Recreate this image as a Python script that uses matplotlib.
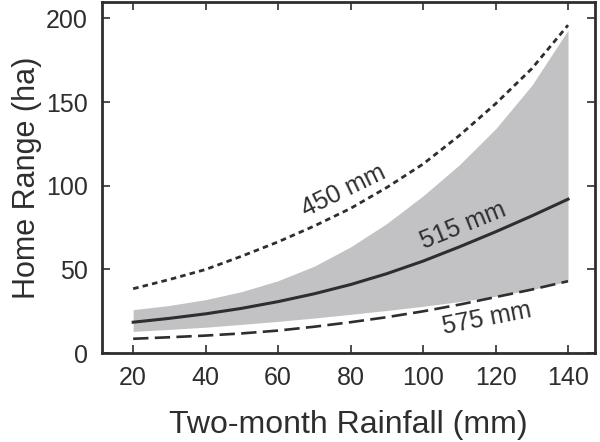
import numpy as np
import matplotlib
matplotlib.use("Agg")
import matplotlib.pyplot as plt

plt.rcParams['font.family'] = ['Liberation Sans', 'DejaVu Sans']

# two-month rainfall (mm)
rain = [20, 30, 40, 50, 60, 70, 80, 90, 100, 110, 120, 130, 140]
# home range (ha) for three annual rainfall levels
hr_450 = [38.5, 44, 50, 58, 66.5, 76, 86.5, 99, 113, 130, 149, 170, 196]
hr_515 = [18.5, 20.8, 23.5, 26.8, 30.8, 35.5, 41, 47.5, 55, 63.5, 72.5, 82, 92]
hr_575 = [8.6, 9.5, 10.5, 11.8, 13.5, 15.8, 18.5, 21.5, 25, 29, 33.5, 38, 43]
# confidence band around the 515 mm curve
band_hi = [26, 28.5, 32, 36.8, 43.3, 52, 63.5, 77.5, 94, 112.5, 134, 160, 193]
band_lo = [13, 14.2, 15.5, 17.2, 19, 21, 23.2, 25.5, 28, 30.8, 34, 38, 43]

labels = ['450 mm', '515 mm', '575 mm']

ink = '#2e2e2e'
fig = plt.figure(figsize=(6, 4.42), dpi=100)
ax = fig.add_axes([0.170, 0.201, 0.822, 0.794])

ax.fill_between(rain, band_lo, band_hi, color='#c2c2c4', lw=0)
ax.plot(rain, hr_450, color=ink, lw=2.0, dashes=(2.0, 1.5))
ax.plot(rain, hr_515, color=ink, lw=2.2)
ax.plot(rain, hr_575, color=ink, lw=1.9, dashes=(5.8, 2.4))

ax.text(78, 97, labels[0], rotation=26, ha='center', va='center', fontsize=18, color=ink)
ax.text(111, 76.5, labels[1], rotation=22, ha='center', va='center', fontsize=18, color=ink)
ax.text(117.5, 20.5, labels[2], rotation=11, ha='center', va='center', fontsize=18, color=ink)

ax.set_xlim(11.4, 147.5)
ax.set_ylim(0, 209.7)
ax.set_xticks([20, 40, 60, 80, 100, 120, 140])
ax.set_yticks([0, 50, 100, 150, 200])
ax.tick_params(direction='in', length=6, width=1.2, top=True, right=True,
               labelsize=18, colors=ink)
ax.tick_params(axis='y', pad=10)
ax.tick_params(axis='x', pad=9)
for s in ax.spines.values():
    s.set_linewidth(2.0)
    s.set_color(ink)

ax.set_xlabel('Two-month Rainfall (mm)', fontsize=23, color=ink, labelpad=15)
ax.set_ylabel('Home Range (ha)', fontsize=22, color=ink, labelpad=3)

fig.savefig('out.png', dpi=100)
